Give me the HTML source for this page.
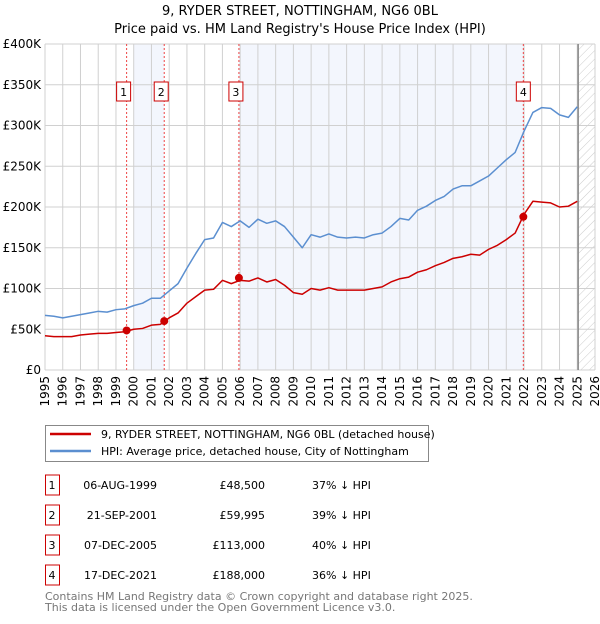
<!DOCTYPE html>
<html><head><meta charset="utf-8"><style>
body{margin:0;background:#fff;font-family:"DejaVu Sans","Liberation Sans",sans-serif;}
svg text{font-family:"DejaVu Sans","Liberation Sans",sans-serif;}
</style></head><body>
<svg id="chart" width="600" height="620" viewBox="0 0 600 620" xmlns="http://www.w3.org/2000/svg">
<defs><pattern id="hatch" width="6" height="6" patternUnits="userSpaceOnUse" patternTransform="rotate(45)"><line x1="0" y1="0" x2="0" y2="6" stroke="#ccc" stroke-width="1"/></pattern></defs>
<text x="300" y="15" text-anchor="middle" font-size="13">9, RYDER STREET, NOTTINGHAM, NG6 0BL</text>
<text x="300" y="33" text-anchor="middle" font-size="13">Price paid vs. HM Land Registry's House Price Index (HPI)</text>
<g id="plot"></g>
<g>
<rect x="45.5" y="425.5" width="383" height="36" fill="#fff" stroke="#888"/>
<line x1="50" y1="434" x2="91" y2="434" stroke="#cc0000" stroke-width="2.5"/>
<text x="101" y="438" font-size="11">9, RYDER STREET, NOTTINGHAM, NG6 0BL (detached house)</text>
<line x1="50" y1="451" x2="91" y2="451" stroke="#5b8fd0" stroke-width="2.5"/>
<text x="101" y="455" font-size="11">HPI: Average price, detached house, City of Nottingham</text>
</g>
<g id="table"></g>
<text x="45" y="600" font-size="11" fill="#777">Contains HM Land Registry data © Crown copyright and database right 2025.</text>
<text x="45" y="611" font-size="11" fill="#777">This data is licensed under the Open Government Licence v3.0.</text>
</svg>
<script>
const years=[1995,1995.5,1996,1996.5,1997,1997.5,1998,1998.5,1999,1999.5,2000,2000.5,2001,2001.5,2002,2002.5,2003,2003.5,2004,2004.5,2005,2005.5,2006,2006.5,2007,2007.5,2008,2008.5,2009,2009.5,2010,2010.5,2011,2011.5,2012,2012.5,2013,2013.5,2014,2014.5,2015,2015.5,2016,2016.5,2017,2017.5,2018,2018.5,2019,2019.5,2020,2020.5,2021,2021.5,2022,2022.5,2023,2023.5,2024,2024.5,2025];
const hpi=[67,66,64,66,68,70,72,71,74,75,79,82,88,88,97,106,125,143,160,162,181,176,183,175,185,180,183,176,163,150,166,163,167,163,162,163,162,166,168,176,186,184,196,201,208,213,222,226,226,232,238,248,258,267,293,316,322,321,313,310,323];
const paid=[42,41,41,41,43,44,45,45,46,47,50,51,55,56,64,70,82,90,98,99,110,106,110,109,113,108,111,104,95,93,100,98,101,98,98,98,98,100,102,108,112,114,120,123,128,132,137,139,142,141,148,153,160,168,191,207,206,205,200,201,207];
const saleDates=[1999.6,2001.72,2005.93,2021.96];
const salePrices=[48.5,59.995,113,188];
const saleLabels=["1","2","3","4"];
const saleDateText=["06-AUG-1999","21-SEP-2001","07-DEC-2005","17-DEC-2021"];
const salePriceText=["£48,500","£59,995","£113,000","£188,000"];
const saleHpiText=["37% ↓ HPI","39% ↓ HPI","40% ↓ HPI","36% ↓ HPI"];
const yTicks=[0,50,100,150,200,250,300,350,400];
const yTickLabels=["£0","£50K","£100K","£150K","£200K","£250K","£300K","£350K","£400K"];
const xTicks=[1995,1996,1997,1998,1999,2000,2001,2002,2003,2004,2005,2006,2007,2008,2009,2010,2011,2012,2013,2014,2015,2016,2017,2018,2019,2020,2021,2022,2023,2024,2025,2026];

const NS="http://www.w3.org/2000/svg";
const X0=45,X1=595,Y0=370,Y1=44;
const xs=v=>X0+(v-1995)*(X1-X0)/31;
const ys=v=>Y0-v*(Y0-Y1)/400;
const plot=document.getElementById('plot');
function mk(tag,attrs,parent){const e=document.createElementNS(NS,tag);for(const k in attrs)e.setAttribute(k,attrs[k]);(parent||plot).appendChild(e);return e;}

let r=mk('rect',{x:xs(2000),y:Y1,width:xs(saleDates[1])-xs(2000),height:Y0-Y1,fill:'#f3f6fd'});


r=mk('rect',{x:xs(saleDates[2]),y:Y1,width:xs(saleDates[3])-xs(saleDates[2]),height:Y0-Y1,fill:'#f3f6fd'});


r=mk('rect',{x:xs(2025.05),y:Y1,width:X1-xs(2025.05),height:Y0-Y1,fill:'url(#hatch)'});



xTicks.forEach(t=>{const l=mk('line',{x1:xs(t),x2:xs(t),y1:Y1,y2:Y0,stroke:'#d0d0d0'});


const tx=mk('text',{x:0,y:0,'font-size':12,'text-anchor':'end',transform:`translate(${xs(t)+4},${Y0+6}) rotate(-90)`});tx.textContent=t;

});
yTicks.forEach((t,i)=>{const l=mk('line',{x1:X0,x2:X1,y1:ys(t),y2:ys(t),stroke:'#d0d0d0'});


const tx=mk('text',{x:X0-4,y:ys(t)+4,'font-size':12,'text-anchor':'end'});tx.textContent=yTickLabels[i];

});
let b=mk('line',{x1:xs(2025.05),x2:xs(2025.05),y1:Y1,y2:Y0,stroke:'#888','stroke-width':1.5});



saleDates.forEach((d,i)=>{const l=mk('line',{x1:xs(d),x2:xs(d),y1:Y1,y2:Y0,stroke:'#e44','stroke-dasharray':'2,2','stroke-width':1});


const bx=mk('rect',{x:xs(d)-10,y:82,width:14,height:19,fill:'#fff',stroke:'#cc0000'});
bx.setAttribute('x',xs(d)-(i==3?7:10));


const t=mk('text',{x:xs(d)-(i==3?0:3),y:96,'font-size':11,'text-anchor':'middle'});t.textContent=saleLabels[i];

});

function line(vals,color,name){const p=mk('polyline',{points:years.map((y,i)=>xs(y)+','+ys(vals[i])).join(' '),fill:'none',stroke:color,'stroke-width':1.5,'stroke-linejoin':'round'});

}
line(hpi,'#5b8fd0','hpi-line');
line(paid,'#cc0000','price-paid-line');
saleDates.forEach((d,i)=>{const c=mk('circle',{cx:xs(d),cy:ys(salePrices[i]),r:4,fill:'#cc0000'});

});

const tb=document.getElementById('table');
saleDates.forEach((d,i)=>{const y=485+i*30;
const bx=mk('rect',{x:45.5,y:y-10,width:14,height:20,fill:'#fff',stroke:'#cc0000'},tb);


const cells=[[52,'middle',saleLabels[i]],[157,'end',saleDateText[i]],[265,'end',salePriceText[i]],[312,'start',saleHpiText[i]]];
cells.forEach(c=>{const t=mk('text',{x:c[0],y:y+4,'font-size':11,'text-anchor':c[1]},tb);t.textContent=c[2];

});});
</script>
</body></html>
